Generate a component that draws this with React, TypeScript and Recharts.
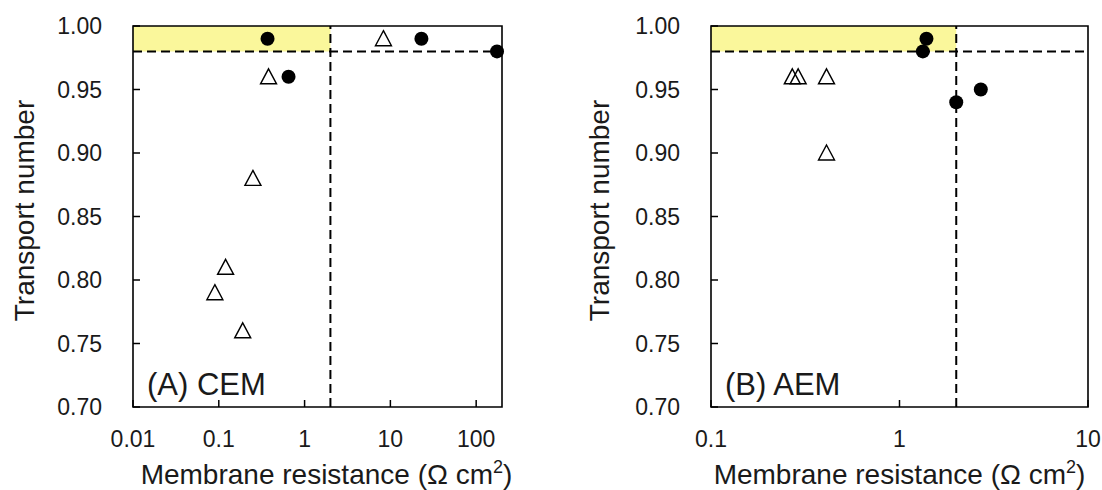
import {
  ScatterChart,
  Scatter,
  XAxis,
  YAxis,
  ReferenceArea,
  ReferenceLine,
} from "recharts";

// (A) CEM
const cemFilledX = [0.37, 0.65, 23, 175];
const cemFilledY = [0.99, 0.96, 0.99, 0.98];
const cemOpenX = [8.3, 0.38, 0.25, 0.12, 0.09, 0.19];
const cemOpenY = [0.99, 0.96, 0.88, 0.81, 0.79, 0.76];

// (B) AEM
const aemFilledX = [1.39, 1.33, 2.0, 2.7];
const aemFilledY = [0.99, 0.98, 0.94, 0.95];
const aemOpenX = [0.27, 0.29, 0.41, 0.41];
const aemOpenY = [0.96, 0.96, 0.96, 0.9];

const cemTicks = [0.01, 0.1, 1, 10, 100];
const aemTicks = [0.1, 1, 10];
const yTicks = [0.7, 0.75, 0.8, 0.85, 0.9, 0.95, 1.0];

const resistanceLimit = 2;
const transportLimit = 0.98;

const FONT = "'Liberation Sans', Arial, sans-serif";
const INK = "#1a1a1a";

const toPoints = (xs: number[], ys: number[]) =>
  xs.map((x, i) => ({ x, y: ys[i] }));

const Dot = (p: any) => <circle cx={p.cx} cy={p.cy} r={7} fill="#000" />;

const Tri = (p: any) => (
  <polygon
    points={`${p.cx},${p.cy - 8} ${p.cx + 8},${p.cy + 7} ${p.cx - 8},${p.cy + 7}`}
    fill="none"
    stroke="#000"
    strokeWidth={1.4}
  />
);

type PanelProps = {
  width: number;
  margin: { top: number; right: number; bottom: number; left: number };
  xDomain: [number, number];
  xTicks: number[];
  filled: { x: number; y: number }[];
  open: { x: number; y: number }[];
  tag: string;
  titleDx: number;
  yTitleDx: number;
};

function Panel({
  width,
  margin,
  xDomain,
  xTicks,
  filled,
  open,
  tag,
  titleDx,
  yTitleDx,
}: PanelProps) {
  const xTitle = (props: any) => {
    const { x, y, width: w } = props.viewBox;
    return (
      <text
        x={x + w / 2 + titleDx}
        y={y + 77}
        textAnchor="middle"
        fontSize={28}
        fontFamily={FONT}
        fill={INK}
      >
        Membrane resistance (Ω cm
        <tspan dy={-11} fontSize={18}>
          2
        </tspan>
        <tspan dy={11}>)</tspan>
      </text>
    );
  };

  const yTitle = (props: any) => {
    const { x, y, width: w, height } = props.viewBox;
    const left = x + w;
    const cx = left + yTitleDx;
    const cy = y + height / 2 - 6;
    return (
      <g>
        <text
          x={cx}
          y={cy}
          transform={`rotate(-90 ${cx} ${cy})`}
          textAnchor="middle"
          dominantBaseline="central"
          fontSize={28}
          fontFamily={FONT}
          fill={INK}
        >
          Transport number
        </text>
        <text
          x={left + 14}
          y={y + height - 12}
          fontSize={31}
          fontFamily={FONT}
          fill={INK}
        >
          {tag}
        </text>
      </g>
    );
  };

  return (
    <ScatterChart width={width} height={490} margin={margin}>
      <ReferenceArea
        x1={xDomain[0]}
        x2={resistanceLimit}
        y1={transportLimit}
        y2={1}
        fill="#FAF79B"
        fillOpacity={1}
        stroke="none"
      />
      <XAxis
        type="number"
        dataKey="x"
        scale="log"
        domain={xDomain}
        ticks={xTicks}
        interval={0}
        height={1}
        axisLine={false}
        tickSize={-7}
        tickMargin={31}
        tickLine={{ stroke: "#000", strokeWidth: 1.5 }}
        tick={{ fill: INK, fontSize: 23, fontFamily: FONT }}
        tickFormatter={(v: number) => String(v)}
        label={xTitle}
      />
      <YAxis
        type="number"
        dataKey="y"
        domain={[0.7, 1]}
        ticks={yTicks}
        interval={0}
        width={1}
        axisLine={false}
        tickSize={-7}
        tickMargin={38}
        tickLine={{ stroke: "#000", strokeWidth: 1.5 }}
        tick={{ fill: INK, fontSize: 23, fontFamily: FONT }}
        tickFormatter={(v: number) => v.toFixed(2)}
        label={yTitle}
      />
      <ReferenceLine
        y={transportLimit}
        stroke="#000"
        strokeWidth={2}
        strokeDasharray="9 5"
      />
      <ReferenceLine
        x={resistanceLimit}
        stroke="#000"
        strokeWidth={2}
        strokeDasharray="9 5"
      />
      <ReferenceArea
        x1={xDomain[0]}
        x2={xDomain[1]}
        y1={0.7}
        y2={1}
        fill="none"
        stroke="#000"
        strokeWidth={1.6}
      />
      <Scatter data={open} shape={Tri} isAnimationActive={false} />
      <Scatter data={filled} shape={Dot} isAnimationActive={false} />
    </ScatterChart>
  );
}

export default function App() {
  return (
    <div
      style={{
        position: "absolute",
        left: 0,
        top: 0,
        width: 1102,
        height: 490,
        background: "#fff",
      }}
    >
      <div style={{ position: "absolute", left: 0, top: 0 }}>
        <Panel
          width={560}
          margin={{ top: 26, right: 58, bottom: 82, left: 132 }}
          xDomain={[0.01, 200]}
          xTicks={cemTicks}
          filled={toPoints(cemFilledX, cemFilledY)}
          open={toPoints(cemOpenX, cemOpenY)}
          tag="(A) CEM"
          titleDx={9}
          yTitleDx={-109}
        />
      </div>
      <div style={{ position: "absolute", left: 560, top: 0 }}>
        <Panel
          width={542}
          margin={{ top: 26, right: 14, bottom: 82, left: 150 }}
          xDomain={[0.1, 10]}
          xTicks={aemTicks}
          filled={toPoints(aemFilledX, aemFilledY)}
          open={toPoints(aemOpenX, aemOpenY)}
          tag="(B) AEM"
          titleDx={0}
          yTitleDx={-112}
        />
      </div>
    </div>
  );
}
